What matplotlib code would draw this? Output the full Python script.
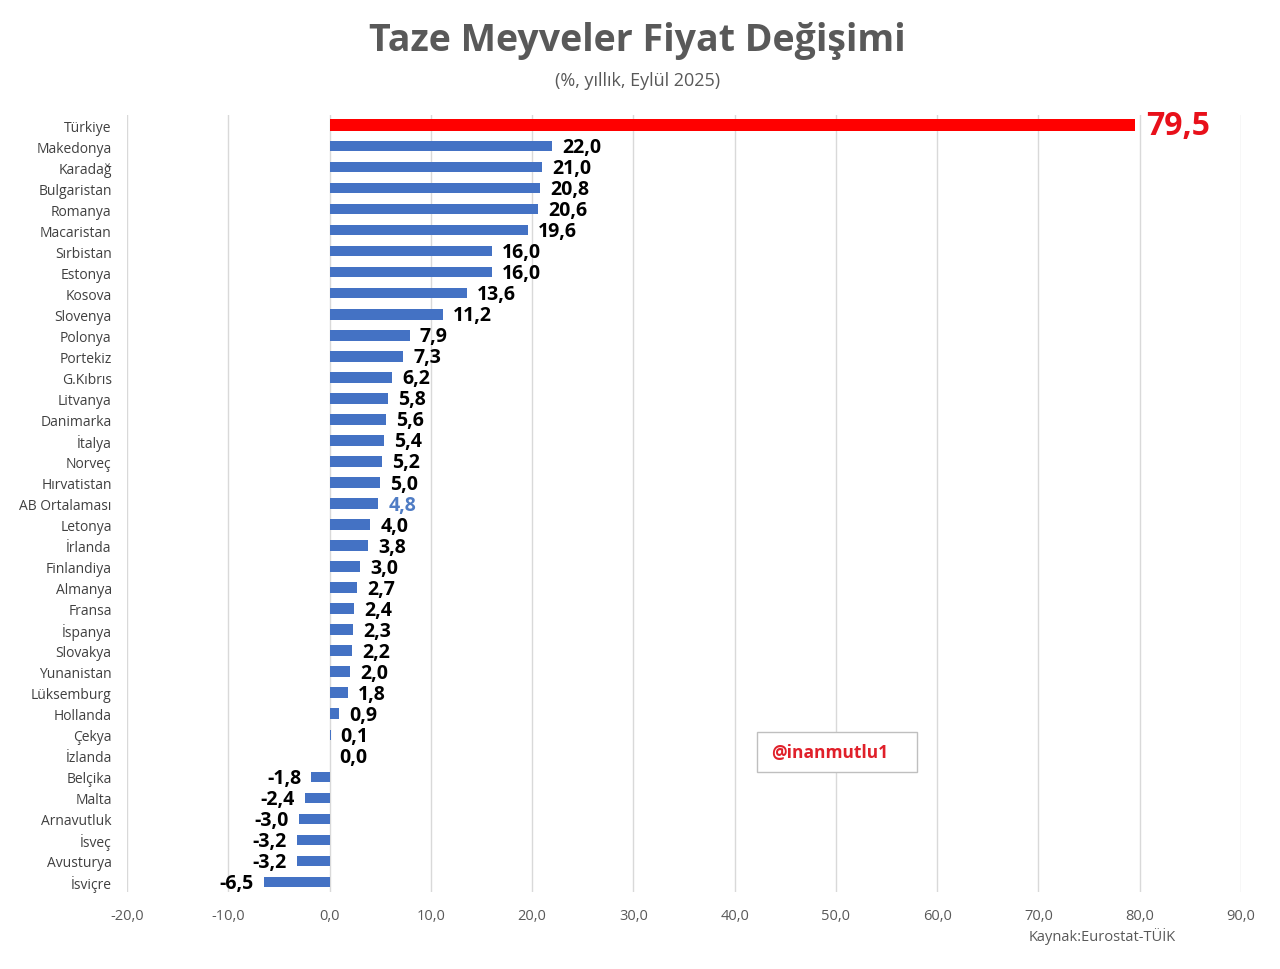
import matplotlib.pyplot as plt
import numpy as np
from matplotlib.patches import Rectangle

countries = ['Türkiye', 'Makedonya', 'Karadağ', 'Bulgaristan', 'Romanya', 'Macaristan',
             'Sırbistan', 'Estonya', 'Kosova', 'Slovenya', 'Polonya', 'Portekiz',
             'G.Kıbrıs', 'Litvanya', 'Danimarka', 'İtalya', 'Norveç', 'Hırvatistan',
             'AB Ortalaması', 'Letonya', 'İrlanda', 'Finlandiya', 'Almanya', 'Fransa',
             'İspanya', 'Slovakya', 'Yunanistan', 'Lüksemburg', 'Hollanda', 'Çekya',
             'İzlanda', 'Belçika', 'Malta', 'Arnavutluk', 'İsveç', 'Avusturya', 'İsviçre']
values = [79.5, 22.0, 21.0, 20.8, 20.6, 19.6, 16.0, 16.0, 13.6, 11.2, 7.9, 7.3,
          6.2, 5.8, 5.6, 5.4, 5.2, 5.0, 4.8, 4.0, 3.8, 3.0, 2.7, 2.4,
          2.3, 2.2, 2.0, 1.8, 0.9, 0.1, 0.0, -1.8, -2.4, -3.0, -3.2, -3.2, -6.5]
xticks = [-20, -10, 0, 10, 20, 30, 40, 50, 60, 70, 80, 90]

BLUE = '#4472C4'
RED = '#FF0000'
GRAY = '#595959'

plt.rcParams['font.family'] = ['Open Sans', 'DejaVu Sans']

fig = plt.figure(figsize=(12.8, 9.7), dpi=100)
ax = fig.add_axes([0.0992, 0.0789, 0.8703, 0.8020])

y = np.arange(len(countries))
colors = [RED if c == 'Türkiye' else BLUE for c in countries]
heights = [0.55 if c == 'Türkiye' else 0.5 for c in countries]
ax.barh(y, values, height=heights, color=colors, zorder=3)

for yi, (c, v) in enumerate(zip(countries, values)):
    txt = f'{v:.1f}'.replace('.', ',')
    if c == 'Türkiye':
        ax.text(v + 1.1, yi, txt, ha='left', va='center', fontsize=23,
                fontweight='bold', color='#E8101A', zorder=4)
        continue
    col = '#4F7CC4' if c == 'AB Ortalaması' else 'black'
    if v >= 0:
        ax.text(v + 1.0, yi + 0.05, txt, ha='left', va='center', fontsize=14,
                fontweight='bold', color=col, zorder=4)
    else:
        ax.text(v - 1.0, yi + 0.05, txt, ha='right', va='center', fontsize=14,
                fontweight='bold', color=col, zorder=4)

ax.set_xlim(-20, 90)
ax.set_ylim(len(countries) - 0.5, -0.5)
ax.set_xticks(xticks)
ax.set_xticklabels([f'{t:.1f}'.replace('.', ',') for t in xticks], color=GRAY, fontsize=10.5)
ax.set_yticks(y)
ax.set_yticklabels(countries, color='#404040', fontsize=10)
ax.tick_params(axis='both', length=0)
ax.tick_params(axis='x', pad=11)
ax.tick_params(axis='y', pad=11)
ax.grid(axis='x', color='#D9D9D9', linewidth=1, zorder=0)
for s in ax.spines.values():
    s.set_visible(False)

fig.text(0.498, 0.958, 'Taze Meyveler Fiyat Değişimi', ha='center', va='center',
         fontsize=27, fontweight='bold', color=GRAY)
fig.text(0.498, 0.917, '(%, yıllık, Eylül 2025)', ha='center', va='center',
         fontsize=13, color=GRAY)
fig.text(0.804, 0.035, 'Kaynak:Eurostat-TÜİK', ha='left', va='center',
         fontsize=10.5, color=GRAY)

# watermark box
ax.add_patch(Rectangle((42.2, 28.85), 15.8, 1.94, facecolor='white',
                       edgecolor='#BFBFBF', linewidth=1, zorder=5))
ax.text(43.6, 29.82, '@inanmutlu1', ha='left', va='center', fontsize=12.5,
        fontweight='bold', color='#E0202A', zorder=6)

fig.savefig('out.png', dpi=100)
